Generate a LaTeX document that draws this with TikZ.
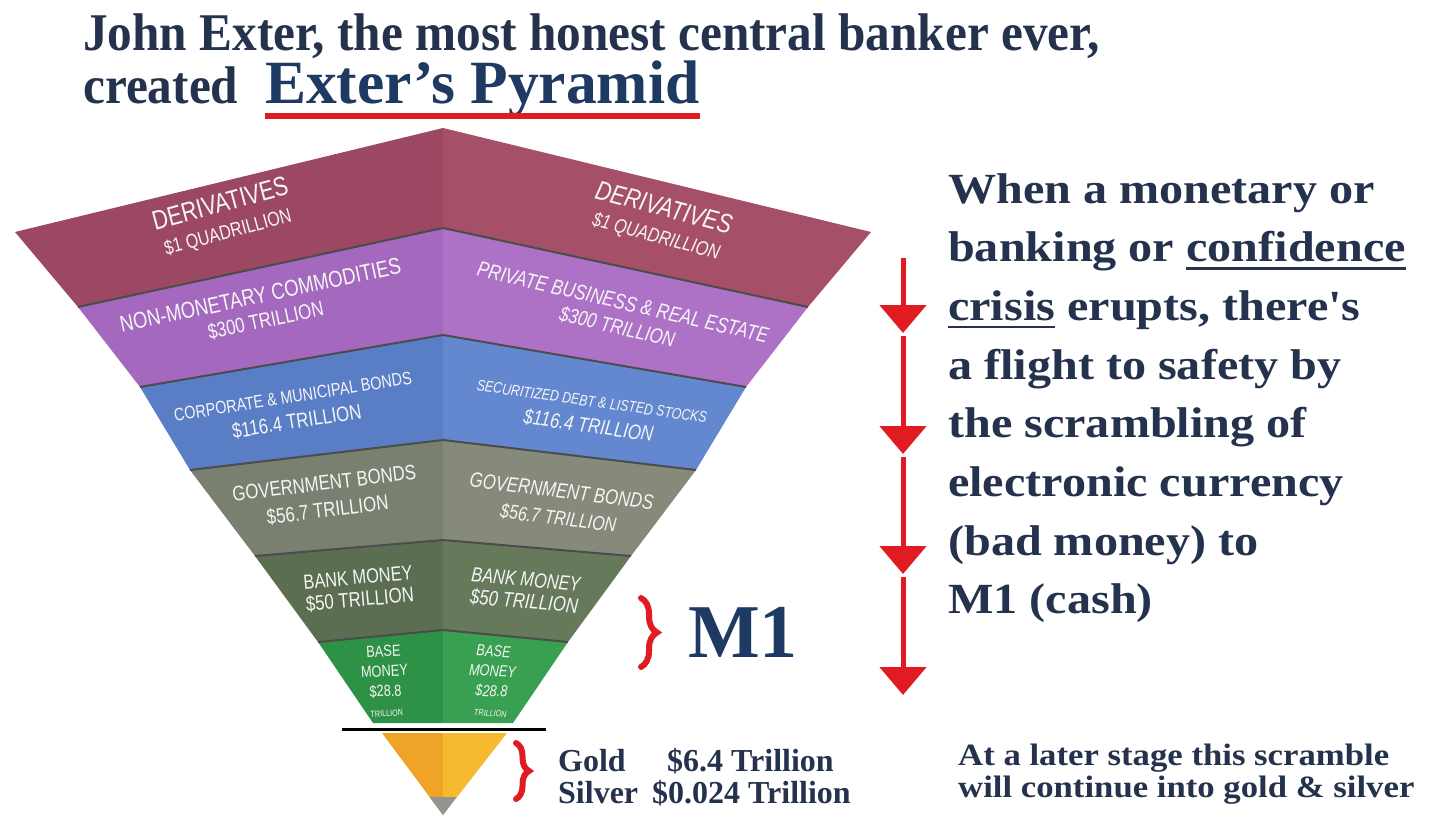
\documentclass[tikz,border=0pt]{standalone}
\usepackage{fontspec}
\setmainfont{Liberation Serif}
\newfontfamily\lyrfont[FakeStretch=0.8]{Liberation Sans}
\newfontfamily\headfont[FakeStretch=0.93]{Liberation Serif}
\newfontfamily\notefont[FakeStretch=1.12]{Liberation Serif}
\usetikzlibrary{arrows.meta}
\usetikzlibrary{decorations.pathreplacing}

\newcommand\fs[2]{\fontsize{#1}{#2}\selectfont}
\newcommand\ulbar[1]{\setbox0\hbox{#1}\rlap{\vrule width \wd0 height -5.5pt depth 8pt}\box0\relax}

\definecolor{ink}{HTML}{24324D}
\definecolor{navy}{HTML}{1E3A62}
\definecolor{alarm}{HTML}{E01B22}
\definecolor{derivL}{HTML}{9C4862}
\definecolor{derivR}{HTML}{A64F69}
\definecolor{nonmonL}{HTML}{A468BF}
\definecolor{nonmonR}{HTML}{AD71C6}
\definecolor{bondL}{HTML}{5A7EC6}
\definecolor{bondR}{HTML}{6488CF}
\definecolor{govL}{HTML}{7A8070}
\definecolor{govR}{HTML}{858A7A}
\definecolor{bankL}{HTML}{5B6E51}
\definecolor{bankR}{HTML}{66795B}
\definecolor{baseL}{HTML}{2E9246}
\definecolor{baseR}{HTML}{38A050}
\definecolor{goldL}{HTML}{EFA427}
\definecolor{goldR}{HTML}{F6BA30}

\begin{document}
\begin{tikzpicture}[x=1pt,y=-1pt,
lyr/.style={font={\lyrfont\fs{20}{#1}}, text=white!92!gray, align=center, inner sep=0pt},
lyr/.default=24,
lyrit/.style={lyr=#1, font={\lyrfont\itshape\fs{20}{#1}}},
lyrit/.default=24,
seam/.style={draw=black!70, line width=2pt, line join=round},
headline/.style={font=\headfont\bfseries\fs{53}{60}, text=ink, inner sep=0pt},
brand/.style={font=\bfseries\fs{61.5}{66}, text=navy, inner sep=0pt},
redbar/.style={draw=alarm, line width=6pt},
note/.style={font=\notefont\bfseries\fs{43}{58.7}, text=ink, align=left, inner sep=0pt},
flow/.style={draw=alarm, line width=5pt, -{Triangle[width=46pt,length=28pt]}},
curly/.style={draw=alarm, line width=6pt, line cap=round, decorate, decoration={brace, amplitude=#1}},
curly/.default=16pt,
metal/.style={font=\bfseries\fs{32}{34}, text=ink, inner sep=0pt},
later/.style={font=\notefont\bfseries\fs{31}{32}, text=ink, align=left, inner sep=0pt}]
\useasboundingbox[fill=white] (0,0) rectangle (1443,825);

% layer boundaries: left corner, middle, right corner
\foreach \i/\lx/\sy/\cy in {0/15/232/128,1/78/307/228,2/140/387/335,3/190/470/440,4/255/556/540,5/318/642/630,6/373/723/723}
{\coordinate (b\i-l) at (\lx,\sy);
 \coordinate (b\i-c) at (443,\cy);
 \coordinate (b\i-r) at ({886-\lx},\sy);}

\foreach \i/\j/\cl/\cr in {0/1/derivL/derivR,1/2/nonmonL/nonmonR,2/3/bondL/bondR,3/4/govL/govR,4/5/bankL/bankR,5/6/baseL/baseR}
{\fill[\cl] (b\i-l) -- (b\i-c) -- (b\j-c) -- (b\j-l) -- cycle;
 \fill[\cr] (b\i-c) -- (b\i-r) -- (b\j-r) -- (b\j-c) -- cycle;}
\foreach \i in {1,...,5}
 \draw[seam] (b\i-l) -- (b\i-c) -- (b\i-r);

% gold tip
\coordinate (g-l) at (382,733);
\coordinate (g-c) at (443,733);
\coordinate (g-r) at (507,733);
\coordinate (g-tip) at (443,815);
\coordinate (p-l) at (429.5,797);
\coordinate (p-r) at (456.5,797);
\fill[goldL] (g-l) -- (g-c) -- (g-tip) -- cycle;
\fill[goldR] (g-c) -- (g-r) -- (g-tip) -- cycle;
\fill[gray!85] (p-l) -- (p-r) -- (g-tip) -- cycle;
\coordinate (bar-l) at (342,729);
\coordinate (bar-r) at (546,729);
\draw[line width=3pt] (bar-l) -- (bar-r);

% layer labels
\node[lyr=27, rotate=15] (deriv-l) at (224,218) {\fs{27}{27}DERIVATIVES\\\fs{20}{20}\$1 QUADRILLION};
\node[lyrit=27, rotate=-15] (deriv-r) at (660,222) {\fs{27}{27}DERIVATIVES\\\fs{20}{20}\$1 QUADRILLION};
\node[lyr=25, rotate=12] (nonmon-l) at (263,308) {\fs{23}{23}NON-MONETARY COMMODITIES\\\fs{21}{21}\$300 TRILLION};
\node[lyrit=25, rotate=-13] (nonmon-r) at (620,315) {\fs{21.5}{21.5}PRIVATE BUSINESS \& REAL ESTATE\\\fs{21}{21}\$300 TRILLION};
\node[lyr=26, rotate=9] (bond-l) at (295,410) {\fs{18}{18}CORPORATE \& MUNICIPAL BONDS\\\fs{21}{21}\$116.4 TRILLION};
\node[lyrit=26, rotate=-8] (bond-r) at (590,415) {\fs{15.5}{15.5}SECURITIZED DEBT \& LISTED STOCKS\\\fs{21}{21}\$116.4 TRILLION};
\node[lyr=27, rotate=7] (gov-l) at (326,497) {\fs{21}{21}GOVERNMENT BONDS\\\fs{21}{21}\$56.7 TRILLION};
\node[lyrit=27, rotate=-7] (gov-r) at (560,505) {\fs{21}{21}GOVERNMENT BONDS\\\fs{20}{20}\$56.7 TRILLION};
\node[lyr=22, rotate=5] (bank-l) at (359,589) {\fs{20.5}{20.5}BANK MONEY\\\fs{21}{21}\$50 TRILLION};
\node[lyrit=22, rotate=-5] (bank-r) at (525,591) {\fs{20.5}{20.5}BANK MONEY\\\fs{21}{21}\$50 TRILLION};
\node[lyr=20, rotate=3] (base-l) at (385,681) {\fs{16}{16}BASE\\\fs{16}{16}MONEY\\\fs{16}{16}\$28.8\\\fs{9}{9}TRILLION};
\node[lyrit=20, rotate=-3] (base-r) at (492,681) {\fs{16}{16}BASE\\\fs{16}{16}MONEY\\\fs{16}{16}\$28.8\\\fs{9}{9}TRILLION};

% title
\node[headline, anchor=base west] (title) at (83,50) {John Exter, the most honest central banker ever,};
\node[headline, anchor=base west] (created) at (83,103) {created};
\node[brand, anchor=base west] (pyramid) at (265,103) {Exter's Pyramid};
\draw[redbar] (pyramid.south west) -- (pyramid.south east);

% flight to safety
\node[note, anchor=north west] (crisis) at (948,173) {When a monetary or\\banking or \ulbar{confidence}\\\ulbar{crisis} erupts, there's\\a flight to safety by\\the scrambling of\\electronic currency\\(bad money) to\\M1 (cash)};
\foreach \k/\yy in {0/258,1/333,2/454,3/574,4/695}
 \coordinate (f\k) at (903,\yy);
\draw[flow] (f0) -- (f1);
\foreach \i/\j in {1/2,2/3,3/4}
 \draw[flow, shorten <=3pt] (f\i) -- (f\j);

% M1
\node[font=\bfseries\fs{76}{76}, text=navy, inner sep=0pt, anchor=base west] (m1) at (688,657) {M1};
\coordinate (m1-top) at (641,598);
\coordinate (m1-bot) at (641,667);
\draw[curly] (m1-top) -- (m1-bot);

% gold and silver
\coordinate (gs-top) at (516,743);
\coordinate (gs-bot) at (516,799);
\draw[curly=13pt] (gs-top) -- (gs-bot);
\node[metal, anchor=base west] (gold) at (558,771) {Gold};
\node[metal, anchor=base west] (silver) at (558,803) {Silver};
\node[metal, anchor=base west] (gold-val) at (667,771) {\$6.4 Trillion};
\node[metal, anchor=base west] (silver-val) at (652,803) {\$0.024 Trillion};
\node[later, anchor=north west] (stage) at (958,744) {At a later stage this scramble\\will continue into gold \& silver};
\end{tikzpicture}
\end{document}
